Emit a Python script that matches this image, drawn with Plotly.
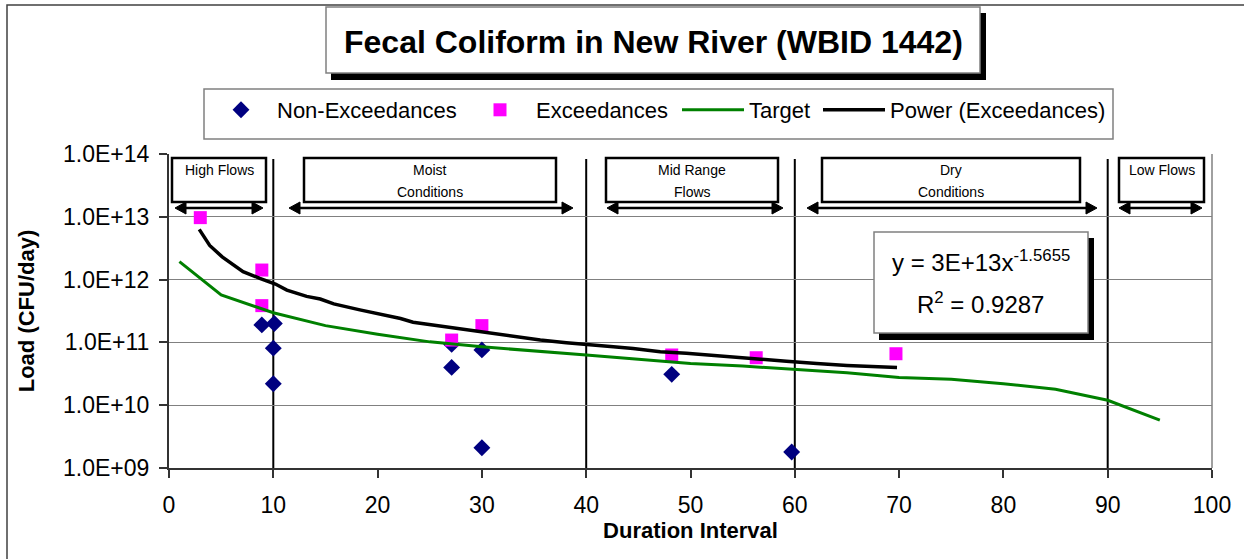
import plotly.graph_objects as go

# ---------------- data ----------------
non_exc_x = [8.9, 10.1, 10.0, 10.0, 27.1, 27.1, 30.0, 30.0, 48.2, 59.7]
non_exc_y = [1.9e11, 2.0e11, 8.1e10, 2.2e10, 9.3e10, 4.0e10, 7.6e10, 2.1e9, 3.1e10, 1.8e9]

exc_x = [3.0, 8.9, 8.9, 27.1, 30.0, 48.2, 56.3, 69.7]
exc_y = [9.7e12, 1.42e12, 3.85e11, 1.09e11, 1.85e11, 6.3e10, 5.7e10, 6.6e10]

target_x = [1, 5, 10, 15, 20, 25, 30, 35, 40, 45, 50, 55, 60, 65, 70, 75, 80, 85, 90, 95]
target_y = [1.93e12, 5.7e11, 2.97e11, 1.85e11, 1.35e11, 1.02e11, 8.5e10, 7.4e10, 6.3e10,
            5.4e10, 4.6e10, 4.2e10, 3.7e10, 3.3e10, 2.75e10, 2.6e10, 2.2e10, 1.8e10,
            1.2e10, 5.8e9]

power_x = [2.9, 3.9, 5.1, 7.1, 8.7, 10.2, 11.3, 13.2, 14.5, 15.8, 18.3, 22.2, 23.4, 26.9,
           29.2, 31.1, 33.3, 35.6, 38.1, 40.0, 42.6, 44.5, 47.1, 49.6, 51.9, 56.0, 59.2,
           62.1, 65.0, 69.8]
power_y = [6.3e12, 3.5e12, 2.3e12, 1.34e12, 1.05e12, 8.5e11, 6.8e11, 5.4e11, 4.9e11,
           4.1e11, 3.3e11, 2.4e11, 2.1e11, 1.74e11, 1.58e11, 1.39e11, 1.23e11, 1.09e11,
           9.9e10, 9.4e10, 8.5e10, 8.0e10, 7.1e10, 6.7e10, 6.2e10, 5.5e10, 5.0e10,
           4.6e10, 4.3e10, 4.0e10]

y_tickvals = [1e9, 1e10, 1e11, 1e12, 1e13, 1e14]
y_ticktext = ["1.0E+09", "1.0E+10", "1.0E+11", "1.0E+12", "1.0E+13", "1.0E+14"]

zone_bounds = [10, 40, 60, 90]

# ---------------- layout geometry ----------------
W, H = 1244, 559
ML, MR, MT, MB = 169, 32, 154, 91
PW = W - ML - MR
PH = H - MT - MB
FONT = "Arial, Liberation Sans, sans-serif"


def px(xp):
    return (xp - ML) / PW


def py(yp):
    return (H - MB - yp) / PH


fig = go.Figure()

fig.add_trace(go.Scatter(
    x=non_exc_x, y=non_exc_y, mode="markers", name="Non-Exceedances",
    marker=dict(symbol="diamond", size=13, color="#000080"), legend="legend"))
fig.add_trace(go.Scatter(
    x=exc_x, y=exc_y, mode="markers", name="Exceedances",
    marker=dict(symbol="square", size=13, color="#FF00FF"), legend="legend2"))
fig.add_trace(go.Scatter(
    x=target_x, y=target_y, mode="lines", name="Target",
    line=dict(color="#008000", width=3), legend="legend3"))
fig.add_trace(go.Scatter(
    x=power_x, y=power_y, mode="lines", name="Power (Exceedances)",
    line=dict(color="#000000", width=3.5), legend="legend4"))

shapes = []
# outer chart border
shapes.append(dict(type="rect", xref="paper", yref="paper", x0=px(7), x1=px(1270),
                   y0=py(5), y1=py(580), line=dict(color="#404040", width=1.5), layer="below"))
# title box with shadow
shapes.append(dict(type="rect", xref="paper", yref="paper", x0=px(331), x1=px(986),
                   y0=py(13), y1=py(80), fillcolor="black", line=dict(width=0), layer="above"))
shapes.append(dict(type="rect", xref="paper", yref="paper", x0=px(326), x1=px(980),
                   y0=py(7), y1=py(73), fillcolor="white", line=dict(color="#808080", width=1.5),
                   layer="above"))
# legend box
shapes.append(dict(type="rect", xref="paper", yref="paper", x0=px(204), x1=px(1113),
                   y0=py(89), y1=py(139), fillcolor="white", line=dict(color="#808080", width=1.5),
                   layer="below"))
# plot right border
shapes.append(dict(type="line", xref="paper", yref="paper", x0=1, x1=1, y0=0, y1=1,
                   line=dict(color="#808080", width=1.5), layer="between"))
# zone separators
for zb in zone_bounds:
    shapes.append(dict(type="line", xref="x", yref="paper", x0=zb, x1=zb, y0=0, y1=py(159),
                       line=dict(color="black", width=2), layer="between"))
# zone label boxes
zone_boxes = [(172, 266), (304, 556), (606, 778), (822, 1080), (1119, 1204)]
for (a, b) in zone_boxes:
    shapes.append(dict(type="rect", xref="paper", yref="paper", x0=px(a), x1=px(b),
                       y0=py(158), y1=py(202), fillcolor="white",
                       line=dict(color="black", width=2.5), layer="above"))
# double-headed zone arrows
zone_arrows = [(175, 263), (289, 573), (607, 783), (807, 1097), (1119, 1202)]
AY, HL, HH = 208, 11, 6
for (a, b) in zone_arrows:
    shapes.append(dict(type="line", xref="paper", yref="paper", x0=px(a + 8), x1=px(b - 8),
                       y0=py(AY), y1=py(AY), line=dict(color="black", width=2.5), layer="above"))
    left = "M {},{} L {},{} L {},{} Z".format(px(a), py(AY), px(a + HL), py(AY - HH),
                                              px(a + HL), py(AY + HH))
    right = "M {},{} L {},{} L {},{} Z".format(px(b), py(AY), px(b - HL), py(AY - HH),
                                               px(b - HL), py(AY + HH))
    for p in (left, right):
        shapes.append(dict(type="path", xref="paper", yref="paper", path=p,
                           fillcolor="black", line=dict(color="black", width=1), layer="above"))
# equation box with shadow
shapes.append(dict(type="rect", xref="paper", yref="paper", x0=px(879), x1=px(1094),
                   y0=py(238), y1=py(340), fillcolor="black", line=dict(width=0), layer="above"))
shapes.append(dict(type="rect", xref="paper", yref="paper", x0=px(874), x1=px(1088),
                   y0=py(232), y1=py(333), fillcolor="white", line=dict(color="#808080", width=1.5),
                   layer="above"))

annotations = []


def label(text, xx, yy, size, weight="normal"):
    annotations.append(dict(text=text, xref="paper", yref="paper", x=px(xx), y=py(yy),
                            xanchor="center", yanchor="middle", showarrow=False,
                            font=dict(family=FONT, size=size, color="black", weight=weight)))


label("Fecal Coliform in New River (WBID 1442)", 653, 42, 32, "bold")
zone_labels = [("High Flows", 219, 170), ("Moist", 430, 170), ("Conditions", 430, 192),
               ("Mid Range", 692, 170), ("Flows", 692, 192), ("Dry", 951, 170),
               ("Conditions", 951, 192), ("Low Flows", 1162, 170)]
for (t, xx, yy) in zone_labels:
    label(t, xx, yy, 14)
label("y = 3E+13x<sup>-1.5655</sup>", 981, 261, 24)
label("R<sup>2</sup> = 0.9287", 980, 303, 24)

legend_common = dict(xref="container", yref="container", xanchor="left", yanchor="middle",
                     y=(H - 110) / H, bgcolor="rgba(0,0,0,0)", borderwidth=0,
                     orientation="h", itemwidth=62,
                     font=dict(family=FONT, size=22, color="black"))

fig.update_layout(
    width=W, height=H,
    margin=dict(l=ML, r=MR, t=MT, b=MB, autoexpand=False),
    paper_bgcolor="white", plot_bgcolor="white",
    font=dict(family=FONT, size=22, color="black"),
    showlegend=True,
    legend=dict(legend_common, x=205 / W),
    legend2=dict(legend_common, x=464 / W),
    legend3=dict(legend_common, x=677 / W),
    legend4=dict(legend_common, x=818 / W),
    shapes=shapes,
    annotations=annotations,
    xaxis=dict(range=[0, 100], dtick=10, tick0=0, showgrid=False, zeroline=False,
               showline=True, linecolor="#333333", linewidth=2,
               ticks="outside", ticklen=8, tickcolor="#333333", tickwidth=1.5,
               ticklabelstandoff=7,
               tickfont=dict(family=FONT, size=23, color="black"),
               title=dict(text="Duration Interval", standoff=2,
                          font=dict(family=FONT, size=22, color="black", weight="bold"))),
    yaxis=dict(type="log", range=[9, 14], tickvals=y_tickvals, ticktext=y_ticktext,
               showgrid=True, gridcolor="#808080", gridwidth=1, zeroline=False,
               showline=True, linecolor="#333333", linewidth=2,
               ticks="outside", ticklen=8, tickcolor="#333333", tickwidth=1.5,
               ticklabelstandoff=5,
               tickfont=dict(family=FONT, size=23, color="black"),
               title=dict(text="Load (CFU/day)", standoff=22,
                          font=dict(family=FONT, size=22, color="black", weight="bold"))),
)

fig.write_html("out.html", config={"displayModeBar": False},
               post_script="document.body.style.margin='0';")
